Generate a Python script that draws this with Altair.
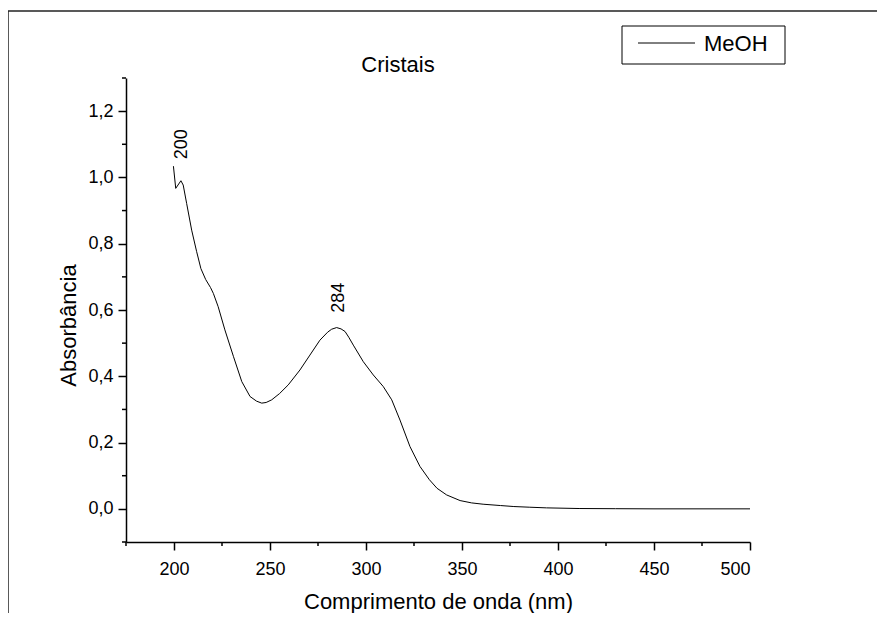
import altair as alt
import pandas as pd

# ---- data ----
wavelength = [199.7, 200.9, 203.6, 204.8, 206.6, 209.2, 211.8, 214.0, 216.5, 219.0,
              220.5, 223.0, 226.5, 231.0, 235.3, 239.6, 243.0, 245.7, 248.0, 250.9,
              255.0, 259.5, 265.6, 270.8, 276.0, 280.0, 282.1, 284.7, 287.0, 289.1,
              291.0, 293.4, 298.6, 303.8, 309.0, 313.4, 317.7, 322.9, 328.1, 333.0,
              337.0, 342.0, 349.0, 355.0, 361.0, 370.0, 377.0, 385.0, 394.0, 411.0,
              430.0, 450.0, 475.0, 500.0]
absorbance = [1.034, 0.967, 0.990, 0.977, 0.921, 0.841, 0.776, 0.725, 0.692, 0.668,
              0.650, 0.610, 0.540, 0.459, 0.384, 0.339, 0.325, 0.319, 0.321, 0.329,
              0.348, 0.374, 0.419, 0.464, 0.509, 0.533, 0.542, 0.547, 0.543, 0.535,
              0.518, 0.494, 0.444, 0.404, 0.369, 0.329, 0.268, 0.188, 0.128, 0.088,
              0.062, 0.042, 0.025, 0.018, 0.014, 0.010, 0.007, 0.005, 0.003, 0.001,
              0.0005, 0.0, 0.0, 0.0]
series = ["MeOH"]
peak_text = ["200", "284"]
peak_wl = [204.0, 285.8]
peak_abs = [1.055, 0.592]
x_major = [200, 250, 300, 350, 400, 450, 500]
x_minor = [175, 225, 275, 325, 375, 425, 475]
y_major = [0.0, 0.2, 0.4, 0.6, 0.8, 1.0, 1.2]
y_minor = [-0.1, 0.1, 0.3, 0.5, 0.7, 0.9, 1.1, 1.3]
chart_title = ["Cristais"]
x_title = "Comprimento de onda (nm)"
y_title = "Absorbância"

FONT = "Liberation Sans"
W, H = 624, 464

df = pd.DataFrame({"wl": wavelength, "abs": absorbance, "series": series[0]})
peaks = pd.DataFrame({"label": peak_text, "wl": peak_wl, "abs": peak_abs})
legend_df = pd.DataFrame({"series": series})
title_df = pd.DataFrame({"t": chart_title})
xminor_df = pd.DataFrame({"wl": x_minor})
yminor_df = pd.DataFrame({"abs": y_minor})

x_scale = alt.Scale(domain=[175, 500], nice=False, zero=False)
y_scale = alt.Scale(domain=[-0.1, 1.3], nice=False, zero=False)

x_axis = alt.Axis(
    values=x_major, title=x_title, grid=False, tickSize=8,
    labelPadding=10, titleX=W / 2, titleY=66, titleBaseline="alphabetic",
    titleAlign="center",
)
y_axis = alt.Axis(
    values=y_major, title=y_title, grid=False, tickSize=8,
    labelExpr="replace(format(datum.value, '.1f'), '.', ',')",
    labelPadding=5, titleX=-51, titleY=247, titleAngle=270,
    titleBaseline="alphabetic", titleAlign="center",
)

line = alt.Chart(df).mark_line(color="black", strokeWidth=1).encode(
    x=alt.X("wl:Q", scale=x_scale, axis=x_axis),
    y=alt.Y("abs:Q", scale=y_scale, axis=y_axis),
)

# minor ticks
x_minor_ticks = alt.Chart(xminor_df).mark_rule(color="black", strokeWidth=1.5).encode(
    x=alt.X("wl:Q", scale=x_scale), y=alt.value(H), y2=alt.value(H + 4))
y_minor_ticks = alt.Chart(yminor_df).mark_rule(color="black", strokeWidth=1.5).encode(
    y=alt.Y("abs:Q", scale=y_scale), x=alt.value(-4), x2=alt.value(0))

peak_labels = alt.Chart(peaks).mark_text(
    angle=270, align="left", baseline="middle", fontSize=18, font=FONT, color="black"
).encode(x=alt.X("wl:Q", scale=x_scale), y=alt.Y("abs:Q", scale=y_scale), text="label:N")

title_mark = alt.Chart(title_df).mark_text(
    align="center", baseline="alphabetic", fontSize=22, font=FONT, color="black"
).encode(x=alt.value(272), y=alt.value(-6), text="t:N")

# legend drawn as a framed box (Origin style)
leg_box = alt.Chart(legend_df).mark_rect(fill="white", stroke="black", strokeWidth=1).encode(
    x=alt.value(496), x2=alt.value(659), y=alt.value(-52), y2=alt.value(-14))
leg_sym = alt.Chart(legend_df).mark_rule(color="black", strokeWidth=1).encode(
    x=alt.value(512), x2=alt.value(569), y=alt.value(-35))
leg_lab = alt.Chart(legend_df).mark_text(
    align="left", baseline="middle", fontSize=22, font=FONT, color="black"
).encode(x=alt.value(578), y=alt.value(-34), text="series:N")

# outer page frame
frame_top = alt.Chart(legend_df).mark_rule(color="#222222", strokeWidth=1.5).encode(
    x=alt.value(-118), x2=alt.value(800), y=alt.value(-67))
frame_left = alt.Chart(legend_df).mark_rule(color="#222222", strokeWidth=1.5).encode(
    x=alt.value(-118), y=alt.value(-67), y2=alt.value(620))

chart = alt.layer(
    frame_top, frame_left, line, x_minor_ticks, y_minor_ticks, peak_labels,
    title_mark, leg_box, leg_sym, leg_lab
).properties(
    width=W, height=H,
    padding={"left": 118, "top": 70, "right": 127, "bottom": 71},
    autosize=alt.AutoSizeParams(type="none"),
).configure_view(stroke=None).configure_axis(
    domainColor="black", domainWidth=1.5, tickColor="black", tickWidth=1.5,
    labelFont=FONT, labelFontSize=18, labelColor="black",
    titleFont=FONT, titleFontSize=22, titleFontWeight="normal", titleColor="black",
)

chart.save("out.html", embed_options={"renderer": "svg", "actions": False})
